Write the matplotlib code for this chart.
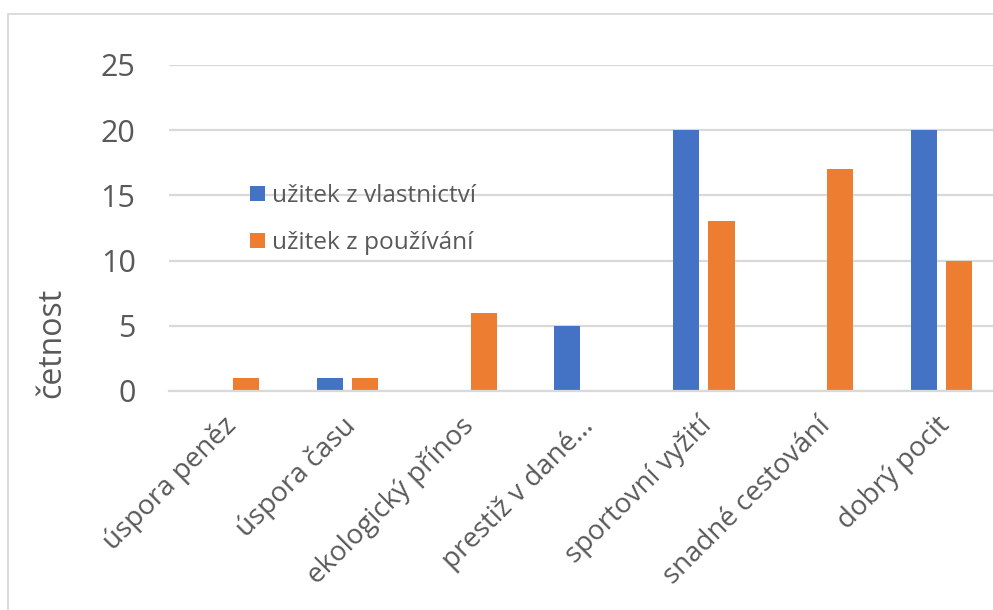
import matplotlib.pyplot as plt
import matplotlib.transforms as mtransforms
import numpy as np
from matplotlib.patches import Rectangle, Patch

categories = ["úspora peněz", "úspora času", "ekologický přínos", "prestiž v dané…",
              "sportovní vyžití", "snadné cestování", "dobrý pocit"]
vlastnictvi = [0, 1, 0, 5, 20, 0, 20]
pouzivani = [1, 1, 6, 0, 13, 17, 10]
series_names = ["užitek z vlastnictví", "užitek z používání"]

blue = "#4472C4"
orange = "#ED7D31"
grid_c = "#D9D9D9"
text_c = "#595959"

plt.rcParams['font.family'] = ['Open Sans', 'DejaVu Sans']

W, H = 993, 610
fig = plt.figure(figsize=(W / 100, H / 100), dpi=100)

# chart border (runs off the right and bottom edge)
fig.patches.append(Rectangle((8 / W, -0.1), 1.2, 1.1 - 14 / H, transform=fig.transFigure,
                             fill=False, edgecolor=grid_c, linewidth=1.3))

left, right, top, bottom = 169, 1001, 65, 391
ax = fig.add_axes([left / W, 1 - bottom / H, (right - left) / W, (bottom - top) / H])

x = np.arange(len(categories))
bw = 0.22
off = 0.148
ax.bar(x - off, vlastnictvi, bw, color=blue, zorder=3)
ax.bar(x + off, pouzivani, bw, color=orange, zorder=3)

ax.set_xlim(-0.5, len(categories) - 0.5)
ax.set_ylim(0, 25)
ax.set_yticks(range(0, 26, 5))
ax.yaxis.grid(True, color=grid_c, linewidth=1.6, zorder=0)
ax.set_axisbelow(True)
for s in ["top", "right", "left"]:
    ax.spines[s].set_visible(False)
ax.spines["bottom"].set_color(grid_c)
ax.spines["bottom"].set_linewidth(1.6)
ax.spines["bottom"].set_zorder(4)

ax.tick_params(axis="y", length=0, pad=24, labelsize=22, labelcolor=text_c)
ax.tick_params(axis="x", length=0, pad=15, labelsize=20, labelcolor=text_c)
ax.set_xticks(x)
ax.set_xticklabels(categories, rotation=45, ha="right", rotation_mode="anchor")
# nudge the slanted labels a little to the left
shift = mtransforms.ScaledTranslation(-6 / 100, 0, fig.dpi_scale_trans)
for lbl in ax.get_xticklabels():
    lbl.set_transform(lbl.get_transform() + shift)

fig.text(52 / W, 1 - 343 / H, "četnost", rotation=90, ha="center", va="center",
         fontsize=23, color=text_c)

handles = [Patch(facecolor=blue), Patch(facecolor=orange)]
fig.legend(handles, series_names, loc="upper left", bbox_to_anchor=(228 / W, 1 - 162 / H),
           frameon=False, fontsize=17.6, labelcolor=text_c, handlelength=0.6,
           handleheight=0.6, handletextpad=0.3, labelspacing=0.95)

fig.savefig("out.png", dpi=100)
